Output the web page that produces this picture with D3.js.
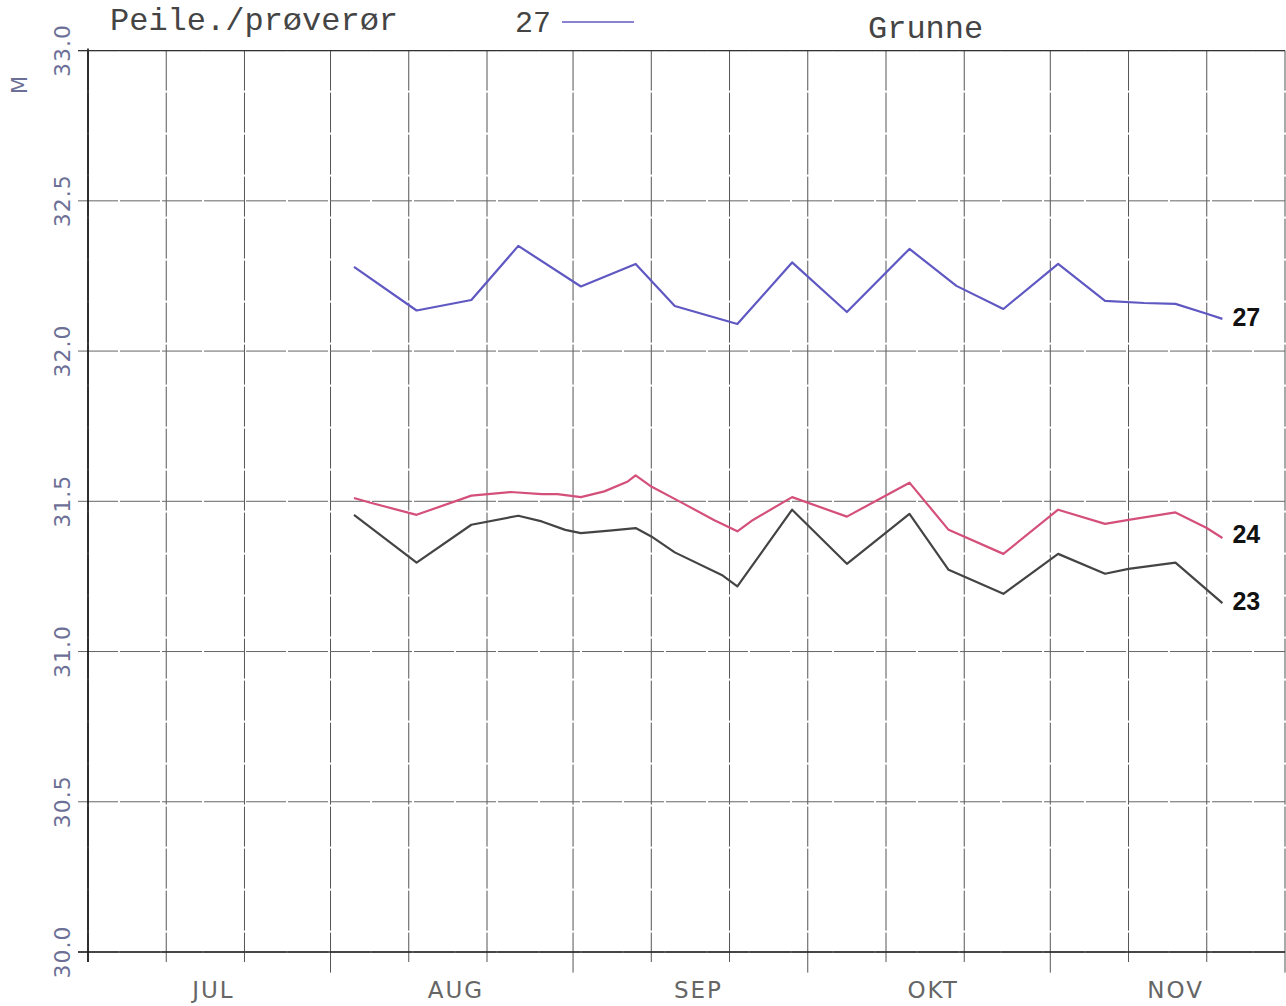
<!DOCTYPE html>
<html>
<head>
<meta charset="utf-8">
<script src="https://d3js.org/d3.v7.min.js"></script>
<style>
  body { margin: 0; background: #fff; }
  svg { display: block; }
</style>
</head>
<body>
<div id="chart"></div>
<script>
// chart size
var width = 1286
var height = 1006
var margin = {top: 50.6, right: 1, bottom: 54, left: 88}

// data (dates are month-day, one season)
var months = ["JUL", "AUG", "SEP", "OKT", "NOV"]
var yTicks = [30.0, 30.5, 31.0, 31.5, 32.0, 32.5, 33.0]

var dates27 = ["08-04","08-12","08-19","08-25","09-02","09-09","09-14","09-22","09-29",
               "10-06","10-14","10-20","10-26","11-02","11-08","11-13","11-17","11-21","11-23"]
var values27 = [32.28, 32.135, 32.17, 32.35, 32.215, 32.29, 32.15, 32.09, 32.295,
                32.13, 32.34, 32.217, 32.14, 32.29, 32.167, 32.16, 32.157, 32.124, 32.107]

var dates24 = ["08-04","08-06","08-12","08-19","08-24","08-28","08-30","09-02","09-05","09-08",
               "09-09","09-11","09-15","09-19","09-22","09-24","09-29","10-06","10-14","10-19",
               "10-26","11-02","11-08","11-11","11-17","11-21","11-23"]
var values24 = [31.511, 31.496, 31.455, 31.519, 31.531, 31.524, 31.524, 31.514, 31.533, 31.566,
                31.586, 31.549, 31.494, 31.438, 31.400, 31.438, 31.514, 31.449, 31.562, 31.405,
                31.325, 31.472, 31.425, 31.438, 31.463, 31.411, 31.378]

var dates23 = ["08-04","08-12","08-19","08-25","08-28","08-31","09-02","09-06","09-09","09-11",
               "09-14","09-20","09-22","09-29","10-06","10-14","10-19","10-26","11-02","11-08",
               "11-11","11-17","11-23"]
var values23 = [31.455, 31.296, 31.422, 31.452, 31.433, 31.405, 31.394, 31.403, 31.411, 31.383,
                31.330, 31.255, 31.217, 31.472, 31.292, 31.458, 31.272, 31.192, 31.325, 31.259,
                31.275, 31.296, 31.161]

var seriesNames = ["27", "24", "23"]
var seriesColors = ["#5f58c2", "#d4507a", "#444444"]

var parseDay = d3.timeParse("%Y-%m-%d")
function toPoints(dates, values) {
  return dates.map(function(d, i) { return {date: parseDay("1990-" + d), value: values[i]} })
}
var series = [
  toPoints(dates27, values27),
  toPoints(dates24, values24),
  toPoints(dates23, values23)
]

var svg = d3.select("#chart")
  .append("svg")
  .attr("width", width)
  .attr("height", height)

var x = d3.scaleTime()
  .domain([new Date(1990, 6, 1), new Date(1990, 11, 1)])
  .range([margin.left, width - margin.right])

var y = d3.scaleLinear()
  .domain([30, 33])
  .range([height - margin.bottom, margin.top])

var plotFont = "'DejaVu Sans', sans-serif"
var monoFont = "'Liberation Mono', 'DejaVu Sans Mono', monospace"
var gridDays = d3.timeDay.range(x.domain()[0], d3.timeDay.offset(x.domain()[1], 1))
  .filter(function(d) { return [1, 11, 21].indexOf(d.getDate()) >= 0 })

// vertical grid (1st, 11th, 21st of month)
svg.append("g")
  .selectAll("line")
  .data(gridDays)
  .enter()
  .append("line")
  .attr("x1", function(d) { return x(d) })
  .attr("x2", function(d) { return x(d) })
  .attr("y1", y(33))
  .attr("y2", function(d) { return y(30) + (d.getDate() == 1 && d > x.domain()[0] ? 22 : 10) })
  .attr("stroke", "#555")
  .attr("stroke-width", 1)
  .attr("stroke-dasharray", "40,2")

// horizontal grid
svg.append("g")
  .selectAll("line")
  .data(yTicks)
  .enter()
  .append("line")
  .attr("x1", margin.left - 10)
  .attr("x2", width - margin.right)
  .attr("y1", function(d) { return y(d) })
  .attr("y2", function(d) { return y(d) })
  .attr("stroke", "#666")
  .attr("stroke-width", 1)
  .attr("stroke-dasharray", "40,2")

// frame lines
svg.append("line")
  .attr("x1", x.range()[0]).attr("x2", x.range()[0])
  .attr("y1", y(33) - 2).attr("y2", y(30) + 10)
  .attr("stroke", "#111").attr("stroke-width", 1.6)
svg.append("line")
  .attr("x1", margin.left - 10).attr("x2", width - margin.right)
  .attr("y1", y(30)).attr("y2", y(30))
  .attr("stroke", "#222").attr("stroke-width", 1.6)
svg.append("line")
  .attr("x1", margin.left - 10).attr("x2", width - margin.right)
  .attr("y1", y(33)).attr("y2", y(33))
  .attr("stroke", "#333").attr("stroke-width", 1.3)

// y labels, rotated
svg.append("g")
  .selectAll("text")
  .data(yTicks)
  .enter()
  .append("text")
  .attr("transform", function(d) { return "translate(62," + y(d) + ") rotate(-90)" })
  .attr("text-anchor", "middle")
  .attr("dominant-baseline", "central")
  .attr("font-family", plotFont)
  .attr("font-size", "22px")
  .attr("letter-spacing", "1px")
  .attr("fill", "#6c6f96")
  .text(function(d) { return d3.format(".1f")(d) })

svg.append("text")
  .attr("transform", "translate(20,85) rotate(-90)")
  .attr("text-anchor", "middle")
  .attr("dominant-baseline", "central")
  .attr("font-family", plotFont)
  .attr("font-size", "21px")
  .attr("fill", "#6c6f96")
  .text("M")

// month labels
svg.append("g")
  .selectAll("text")
  .data(months)
  .enter()
  .append("text")
  .attr("x", function(d, i) { return x(new Date(1990, 6 + i, 16)) + 8 })
  .attr("y", 998)
  .attr("text-anchor", "middle")
  .attr("font-family", plotFont)
  .attr("font-size", "23px")
  .attr("letter-spacing", "2px")
  .attr("fill", "#666")
  .text(function(d) { return d })

// series lines
var line = d3.line()
  .x(function(d) { return x(d.date) })
  .y(function(d) { return y(d.value) })

svg.append("g")
  .selectAll("path")
  .data(series)
  .enter()
  .append("path")
  .attr("d", line)
  .attr("fill", "none")
  .attr("stroke", function(d, i) { return seriesColors[i] })
  .attr("stroke-width", 2.2)
  .attr("stroke-linejoin", "round")

// end labels
svg.append("g")
  .selectAll("text")
  .data(series)
  .enter()
  .append("text")
  .attr("x", function(d) { return x(d[d.length - 1].date) + 10 })
  .attr("y", function(d, i) { return y(d[d.length - 1].value) + 9 - (i == 1 ? 4 : 2) })
  .attr("font-family", "'Liberation Sans', Arial, sans-serif")
  .attr("font-weight", "bold")
  .attr("font-size", "25px")
  .attr("fill", "#111")
  .text(function(d, i) { return seriesNames[i] })

// header
svg.append("text")
  .attr("x", 110).attr("y", 30)
  .attr("font-family", monoFont)
  .attr("font-size", "32px")
  .attr("fill", "#444")
  .text("Peile./prøverør")

svg.append("text")
  .attr("x", 515).attr("y", 32)
  .attr("font-family", monoFont)
  .attr("font-size", "30px")
  .attr("fill", "#444")
  .text(seriesNames[0])

svg.append("line")
  .attr("x1", 562).attr("x2", 634)
  .attr("y1", 22).attr("y2", 22)
  .attr("stroke", seriesColors[0])
  .attr("stroke-width", 1.6)

svg.append("text")
  .attr("x", 868).attr("y", 38)
  .attr("font-family", monoFont)
  .attr("font-size", "32px")
  .attr("fill", "#444")
  .text("Grunne")
</script>
</body>
</html>
